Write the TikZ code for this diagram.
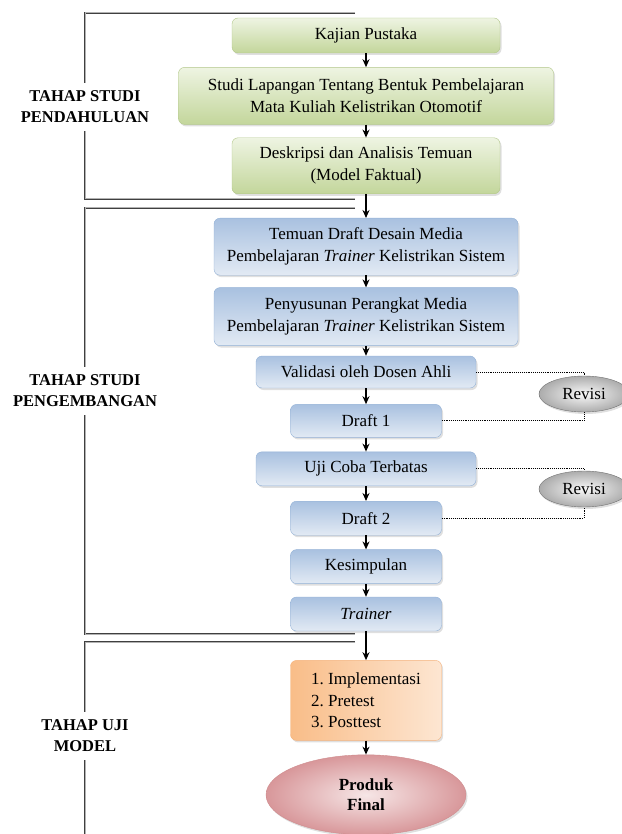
\documentclass[tikz,border=0pt]{standalone}
\usepackage{fontspec}
\setmainfont{Liberation Serif}
\usetikzlibrary{shapes,positioning,arrows,arrows.meta,shadows,calc}
\usepackage{xcolor}

\definecolor{greenTop}{HTML}{EEF4E2}
\definecolor{greenBot}{HTML}{C3D69B}
\definecolor{greenLine}{HTML}{B2C78A}
\definecolor{blueTop}{HTML}{A9C1E0}
\definecolor{blueBot}{HTML}{E2EAF4}
\definecolor{blueLine}{HTML}{93B1D6}
\definecolor{orangeL}{HTML}{F9BD88}
\definecolor{orangeR}{HTML}{FDE6D2}
\definecolor{orangeLine}{HTML}{F4B27C}
\definecolor{pinkIn}{HTML}{F6E6E6}
\definecolor{pinkOut}{HTML}{D8979A}
\definecolor{pinkLine}{HTML}{CF8C8E}

\begin{document}
\begin{tikzpicture}[x=1pt,y=-1pt]

    \tikzstyle{box}=[draw, rectangle, rounded corners=6pt, align=center, inner sep=2pt, font=\fontsize{17}{22}\selectfont, drop shadow={opacity=0.25,shadow xshift=1.5pt,shadow yshift=-2pt}];
    \tikzstyle{greenbox}=[box, draw=greenLine, top color=greenTop, bottom color=greenBot];
    \tikzstyle{bluebox}=[box, draw=blueLine, top color=blueTop, bottom color=blueBot];
    \tikzstyle{orangebox}=[box, draw=orangeLine, left color=orangeL, right color=orangeR];
    \tikzstyle{phase}=[fill=white, align=center, inner xsep=2pt, inner ysep=8pt, font=\bfseries\fontsize{16.5}{21}\selectfont];
    \tikzstyle{bracket}=[line width=0.8pt, draw=black!75, double=black!30, double distance=1pt];
    \tikzstyle{revisi}=[ellipse, draw=black!55, inner color=gray!5, outer color=gray!65, minimum width=90pt, minimum height=36pt, font=\fontsize{17}{22}\selectfont, drop shadow={opacity=0.25,shadow xshift=1.5pt,shadow yshift=-2pt}];
    \tikzstyle{revline}=[densely dotted, line width=0.9pt];
    \tikzstyle{flow}=[->, line width=1.2pt];

    \useasboundingbox (0,0) rectangle (621,834);

    % brackets of the three stages
    \draw[bracket] (355,13) -- (85,13) -- (85,199) -- (355,199);
    \draw[bracket] (355,208) -- (85,208) -- (85,634) -- (355,634);
    \draw[bracket] (355,642) -- (85,642) -- (85,840);

    \node (stage1) at (85,107) [phase]{TAHAP STUDI\\PENDAHULUAN};
    \node (stage2) at (85,391) [phase]{TAHAP STUDI\\PENGEMBANGAN};
    \node (stage3) at (85,736) [phase]{TAHAP UJI\\MODEL};

    \begin{scope}[>={Stealth[length=8pt,width=7pt]}]
      \node (kajian) at (366,35.5) [greenbox, minimum width=268pt, minimum height=35pt]{Kajian Pustaka};
      \node (studi) [below=14pt of kajian, greenbox, minimum width=375pt, minimum height=57pt]{Studi Lapangan Tentang Bentuk Pembelajaran\\Mata Kuliah Kelistrikan Otomotif};
      \node (deskripsi) [below=13pt of studi, greenbox, minimum width=268pt, minimum height=56pt]{Deskripsi dan Analisis Temuan\\(Model Faktual)};

      \node (temuan) [below=24pt of deskripsi, bluebox, minimum width=304pt, minimum height=57pt]{Temuan Draft Desain Media\\Pembelajaran \textit{Trainer} Kelistrikan Sistem};
      \node (penyusunan) [below=12pt of temuan, bluebox, minimum width=304pt, minimum height=58pt]{Penyusunan Perangkat Media\\Pembelajaran \textit{Trainer} Kelistrikan Sistem};
      \node (validasi) [below=10pt of penyusunan, bluebox, minimum width=220pt, minimum height=32pt]{Validasi oleh Dosen Ahli};
      \node (draft1) [below=16pt of validasi, bluebox, minimum width=151pt, minimum height=33pt]{Draft 1};
      \node (ujicoba) [below=14pt of draft1, bluebox, minimum width=220pt, minimum height=34pt]{Uji Coba Terbatas};
      \node (draft2) [below=15pt of ujicoba, bluebox, minimum width=151pt, minimum height=34pt]{Draft 2};
      \node (kesimpulan) [below=14pt of draft2, bluebox, minimum width=151pt, minimum height=34pt]{Kesimpulan};
      \node (trainer) [below=13pt of kesimpulan, bluebox, minimum width=151pt, minimum height=34pt]{\textit{Trainer}};

      \node (ujimodel) [below=29pt of trainer, orangebox, minimum width=151pt, minimum height=80pt, align=left, font=\fontsize{17}{21.5}\selectfont]{1.~Implementasi\\2.~Pretest\\3.~Posttest};
      \node (produk) [below=14pt of ujimodel, ellipse, draw=pinkLine, inner color=pinkIn, outer color=pinkOut, minimum width=200pt, minimum height=80pt, align=center, font=\bfseries\fontsize{17}{20}\selectfont, drop shadow={opacity=0.25,shadow xshift=1.5pt,shadow yshift=-2pt}]{Produk\\Final};

      \node (revisi1) at (584,394) [revisi]{Revisi};
      \node (revisi2) at (584,489) [revisi]{Revisi};

      \draw[flow] (kajian) -- (studi);
      \draw[flow] (studi) -- (deskripsi);
      \draw[flow] (deskripsi) -- (temuan);
      \draw[flow] (temuan) -- (penyusunan);
      \draw[flow] (penyusunan) -- (validasi);
      \draw[flow] (validasi) -- (draft1);
      \draw[flow] (draft1) -- (ujicoba);
      \draw[flow] (ujicoba) -- (draft2);
      \draw[flow] (draft2) -- (kesimpulan);
      \draw[flow] (kesimpulan) -- (trainer);
      \draw[flow] (trainer) -- (ujimodel);
      \draw[flow] (ujimodel) -- (produk);

      \draw[revline] (validasi) -| (revisi1);
      \draw[revline] (draft1) -| (revisi1);
      \draw[revline] (ujicoba) -| (revisi2);
      \draw[revline] (draft2) -| (revisi2);
    \end{scope}
\end{tikzpicture}
\end{document}
